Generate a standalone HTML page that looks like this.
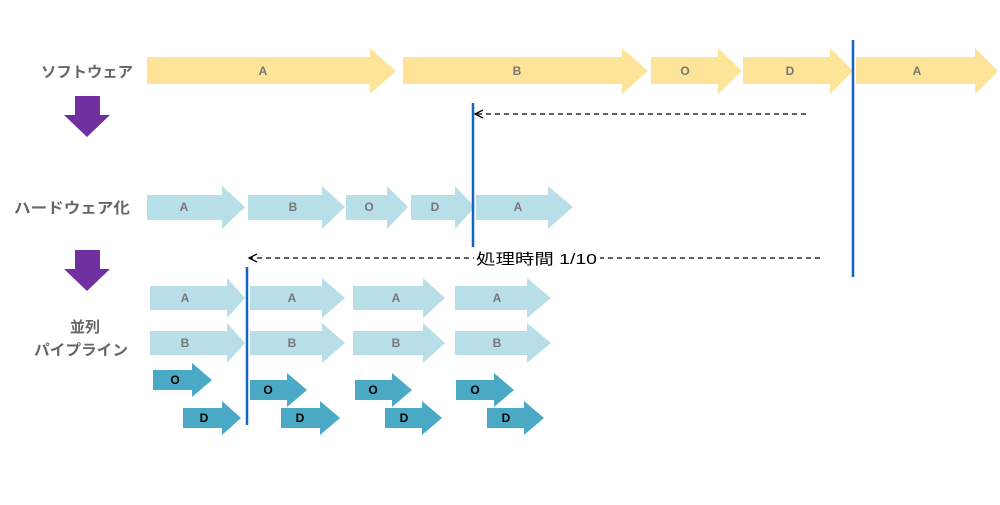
<!DOCTYPE html>
<html><head><meta charset="utf-8"><style>
body{margin:0;background:#fff;}
svg text{font-family:"Liberation Sans","Noto Sans CJK JP",sans-serif;}
</style></head><body>
<svg width="1000" height="500" viewBox="0 0 1000 500" xmlns="http://www.w3.org/2000/svg">
<defs>
<marker id="ah" markerWidth="12" markerHeight="12" refX="9" refY="5" orient="auto" markerUnits="userSpaceOnUse">
<path d="M1,1 L9,5 L1,9" fill="none" stroke="#000" stroke-width="1.3"/></marker>
</defs>
<g fill="#fde498">
<polygon points="147,57 370,57 370,48 396,71 370,94 370,84 147,84"/>
<polygon points="403,57 622,57 622,48 648,71 622,94 622,84 403,84"/>
<polygon points="651,57 718,57 718,48 742,71 718,94 718,84 651,84"/>
<polygon points="743,57 830,57 830,48 853,71 830,94 830,84 743,84"/>
<polygon points="856,57 975,57 975,48 998,71 975,94 975,84 856,84"/>
</g>
<g fill="#b8dfe7">
<polygon points="147,195 222,195 222,186 245,207 222,229 222,220 147,220"/>
<polygon points="248,195 322,195 322,186 345,207 322,229 322,220 248,220"/>
<polygon points="346,195 387,195 387,186 408,207 387,229 387,220 346,220"/>
<polygon points="411,195 455,195 455,186 475,207 455,229 455,220 411,220"/>
<polygon points="476,195 548,195 548,186 573,207 548,229 548,220 476,220"/>
<polygon points="150,286 227,286 227,278 245,298 227,318 227,310 150,310"/>
<polygon points="250,286 322,286 322,278 345,298 322,318 322,310 250,310"/>
<polygon points="353,286 423,286 423,278 445,298 423,318 423,310 353,310"/>
<polygon points="455,286 527,286 527,278 551,298 527,318 527,310 455,310"/>
<polygon points="150,331 227,331 227,323 245,343 227,363 227,355 150,355"/>
<polygon points="250,331 322,331 322,323 345,343 322,363 322,355 250,355"/>
<polygon points="353,331 423,331 423,323 445,343 423,363 423,355 353,355"/>
<polygon points="455,331 527,331 527,323 551,343 527,363 527,355 455,355"/>
</g>
<g fill="#4aa9c4">
<polygon points="153,370 192,370 192,363 212,380 192,397 192,390 153,390"/>
<polygon points="250,380 287,380 287,373 307,390 287,407 287,400 250,400"/>
<polygon points="355,380 392,380 392,373 412,390 392,407 392,400 355,400"/>
<polygon points="456,380 494,380 494,373 514,390 494,407 494,400 456,400"/>
<polygon points="183,408 222,408 222,401 241,418 222,435 222,428 183,428"/>
<polygon points="281,408 320,408 320,401 340,418 320,435 320,428 281,428"/>
<polygon points="385,408 422,408 422,401 442,418 422,435 422,428 385,428"/>
<polygon points="487,408 524,408 524,401 544,418 524,435 524,428 487,428"/>
</g>
<g font-size="12" font-weight="bold" fill="#777" text-anchor="middle">
<text x="263" y="75">A</text><text x="517" y="75">B</text><text x="685" y="75">O</text><text x="790" y="75">D</text><text x="917" y="75">A</text>
<text x="184" y="211">A</text><text x="293" y="211">B</text><text x="369" y="211">O</text><text x="435" y="211">D</text><text x="518" y="211">A</text>
<text x="185" y="302">A</text><text x="292" y="302">A</text><text x="396" y="302">A</text><text x="497" y="302">A</text>
<text x="185" y="347">B</text><text x="292" y="347">B</text><text x="396" y="347">B</text><text x="497" y="347">B</text>
</g>
<g font-size="12" font-weight="bold" fill="#000" text-anchor="middle">
<text x="175" y="384">O</text><text x="268" y="394">O</text><text x="373" y="394">O</text><text x="475" y="394">O</text>
<text x="204" y="422">D</text><text x="300" y="422">D</text><text x="404" y="422">D</text><text x="506" y="422">D</text>
</g>
<g fill="#7030a0">
<polygon points="75,96 100,96 100,115 110,115 87,137 64,115 75,115"/>
<polygon points="75,250 100,250 100,269 110,269 87,291 64,269 75,269"/>
</g>
<g font-size="15" font-weight="bold" fill="#666">
<text x="41" y="77" textLength="92" lengthAdjust="spacingAndGlyphs">ソフトウェア</text>
<text x="14" y="213" textLength="116" lengthAdjust="spacingAndGlyphs">ハードウェア化</text>
<text x="85" y="332" text-anchor="middle">並列</text>
<text x="34" y="355" textLength="94" lengthAdjust="spacingAndGlyphs">パイプライン</text>
</g>
<g stroke="#1565c0" stroke-width="2.5">
<line x1="853" y1="40" x2="853" y2="277"/>
<line x1="473" y1="103" x2="473" y2="247"/>
<line x1="247" y1="267" x2="247" y2="425"/>
</g>
<g stroke="#000" stroke-width="1.3" stroke-dasharray="5,4" fill="none">
<line x1="806" y1="114" x2="475" y2="114" marker-end="url(#ah)"/>
<line x1="820" y1="258" x2="249" y2="258" marker-end="url(#ah)"/>
</g>
<rect x="474" y="249" width="126" height="18" fill="#fff"/>
<text x="476" y="264" font-size="15" fill="#000" textLength="121" lengthAdjust="spacingAndGlyphs">処理時間 1/10</text>
</svg>
</body></html>
